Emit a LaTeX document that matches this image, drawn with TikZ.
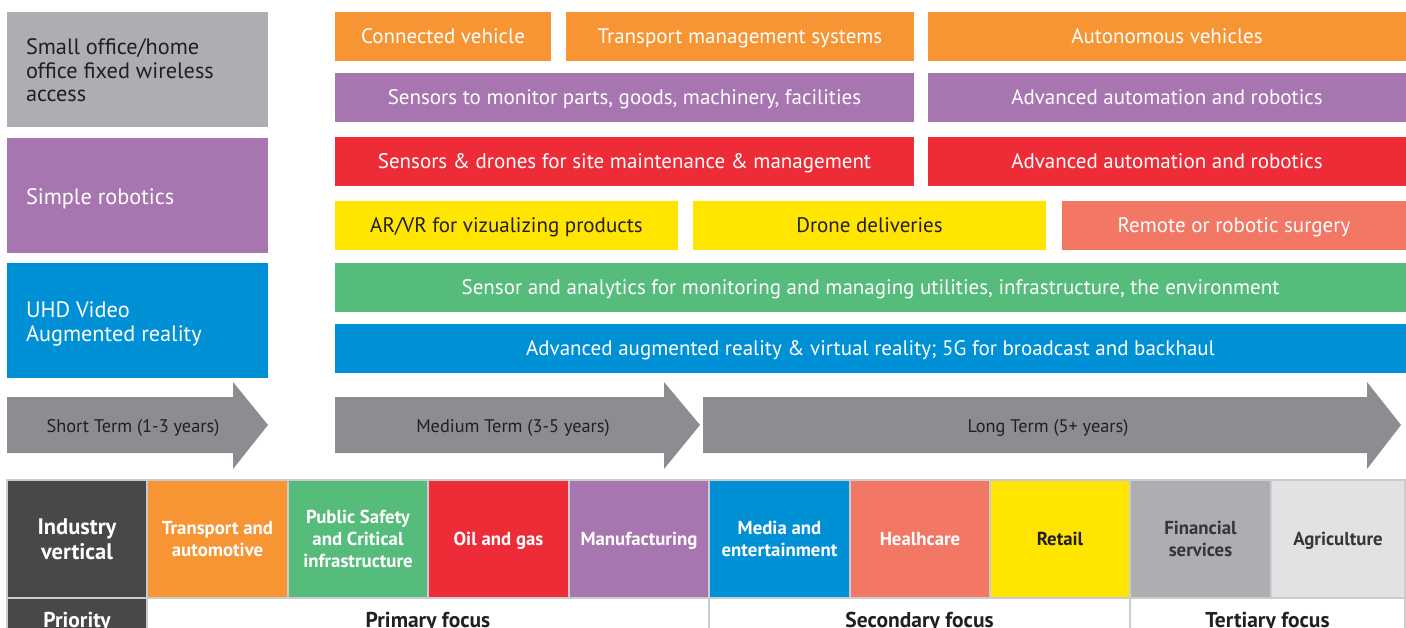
\documentclass[tikz,border=0pt]{standalone}
\usepackage{fontspec}
\setmainfont{PT Sans}
\definecolor{cgray}{HTML}{ADAEB1}
\definecolor{cpurple}{HTML}{A776B0}
\definecolor{cblue}{HTML}{0090D5}
\definecolor{corange}{HTML}{F79433}
\definecolor{cred}{HTML}{EE2C37}
\definecolor{cyellow}{HTML}{FFE500}
\definecolor{csalmon}{HTML}{F27764}
\definecolor{cgreen}{HTML}{56BC7B}
\definecolor{cdark}{HTML}{47484A}
\definecolor{carrow}{HTML}{8C8D90}
\definecolor{clight}{HTML}{E1E2E4}
\definecolor{cline}{HTML}{CBCCCE}
\definecolor{ctext}{HTML}{231F20}
\begin{document}
\begin{tikzpicture}[x=1pt,y=-1pt,
  box/.style={anchor=north west,inner sep=0pt,outer sep=0pt,text=white,
    font=\fontsize{21}{24}\selectfont,text height=14.7pt,text depth=0pt},
  sidebox/.style={anchor=north west,inner sep=0pt,outer sep=0pt,minimum width=261pt,
    minimum height=115pt},
  sidetext/.style={anchor=base west,inner sep=0pt,outer sep=0pt,text=white,
    font=\fontsize{22.3}{23.7}\selectfont},
  arrowtext/.style={text=ctext,font=\fontsize{18.3}{22}\selectfont,
    text height=12.8pt,text depth=0pt,inner sep=0pt},
  cell/.style={anchor=north west,inner sep=0pt,outer sep=0pt,draw=cline,line width=1.1pt,
    minimum height=118pt,text=white,align=center,
    font=\bfseries\fontsize{18.8}{22}\selectfont},
  one/.style={text height=13.2pt,text depth=0pt},
  prow/.style={anchor=north west,inner sep=0pt,outer sep=0pt,draw=cline,line width=1.1pt,
    minimum height=44pt,text=ctext,font=\bfseries\fontsize{21.5}{24}\selectfont,
    text height=15pt,text depth=0pt},
]
\useasboundingbox (0,0) rectangle (1406,628);
\clip (0,0) rectangle (1406,628);

% left column
\node[sidebox,fill=cgray] (soho) at (7,12) {};
\node[sidebox,fill=cpurple] (robot) at (7,138) {};
\node[sidebox,fill=cblue] (uhd) at (7,263) {};
\node[sidetext,text=ctext] (sohoT) at (26,54.5)
  {\parbox[t]{230pt}{\raggedright Small office/home\\office fixed wireless\\access}};
\node[sidetext] (robotT) at (26,204.5) {Simple robotics};
\node[sidetext] (uhdT) at (26,317.5)
  {\parbox[t]{230pt}{\raggedright UHD Video\\Augmented reality}};

% row 1
\node[box,fill=corange,minimum width=216pt,minimum height=49pt] (cv) at (335,12) {Connected vehicle};
\node[box,fill=corange,minimum width=348pt,minimum height=49pt] (tms) at (566,12) {Transport management systems};
\node[box,fill=corange,minimum width=478pt,minimum height=49pt] (av) at (928,12) {Autonomous vehicles};
% row 2
\node[box,fill=cpurple,minimum width=579pt,minimum height=49pt] (sens) at (335,73) {Sensors to monitor parts, goods, machinery, facilities};
\node[box,fill=cpurple,minimum width=478pt,minimum height=49pt] (aar1) at (928,73) {Advanced automation and robotics};
% row 3
\node[box,fill=cred,minimum width=579pt,minimum height=49pt] (drone) at (335,137) {Sensors \& drones for site maintenance \& management};
\node[box,fill=cred,minimum width=478pt,minimum height=49pt] (aar2) at (928,137) {Advanced automation and robotics};
% row 4
\node[box,fill=cyellow,text=ctext,minimum width=343pt,minimum height=49pt] (arvr) at (335,201) {AR/VR for vizualizing products};
\node[box,fill=cyellow,text=ctext,minimum width=353pt,minimum height=49pt] (dd) at (693,201) {Drone deliveries};
\node[box,fill=csalmon,minimum width=344pt,minimum height=49pt] (surg) at (1062,201) {Remote or robotic surgery};
% row 5
\node[box,fill=cgreen,minimum width=1071pt,minimum height=49pt] (util) at (335,263) {Sensor and analytics for monitoring and managing utilities, infrastructure, the environment};
% row 6
\node[box,fill=cblue,minimum width=1071pt,minimum height=49pt] (adv) at (335,324) {Advanced augmented reality \& virtual reality; 5G for broadcast and backhaul};

% arrows
\fill[carrow] (7,397) -- (233,397) -- (233,382) -- (268,425) -- (233,469) -- (233,453) -- (7,453) -- cycle;
\fill[carrow] (335,397) -- (664,397) -- (664,382) -- (700,425) -- (664,469) -- (664,453) -- (335,453) -- cycle;
\fill[carrow] (703,397) -- (1367,397) -- (1367,382) -- (1401,425) -- (1367,469) -- (1367,453) -- (703,453) -- cycle;
\node[arrowtext] (st) at (133,426) {Short Term (1-3 years)};
\node[arrowtext] (mt) at (513,426) {Medium Term (3-5 years)};
\node[arrowtext] (lt) at (1048,426) {Long Term (5+ years)};

% table row 1
\node[cell,fill=cdark,minimum width=140pt,font=\bfseries\fontsize{22.5}{25}\selectfont] (iv) at (7,480) {Industry\\vertical};
\node[cell,fill=corange,minimum width=141pt] (c1) at (147,480) {Transport and\\automotive};
\node[cell,fill=cgreen,minimum width=140pt] (c2) at (288,480) {Public Safety\\and Critical\\infrastructure};
\node[cell,one,fill=cred,minimum width=141pt] (c3) at (428,480) {Oil and gas};
\node[cell,one,fill=cpurple,minimum width=140pt] (c4) at (569,480) {Manufacturing};
\node[cell,fill=cblue,minimum width=141pt] (c5) at (709,480) {Media and\\entertainment};
\node[cell,one,fill=csalmon,minimum width=140pt] (c6) at (850,480) {Healhcare};
\node[cell,one,fill=cyellow,text=ctext,minimum width=140pt] (c7) at (990,480) {Retail};
\node[cell,fill=cgray,text=ctext!90,minimum width=141pt] (c8) at (1130,480) {Financial\\services};
\node[cell,one,fill=clight,text=ctext!90,minimum width=134pt] (c9) at (1271,480) {Agriculture};

% table row 2
\node[prow,fill=cdark,text=white,minimum width=140pt] (pr) at (7,598) {Priority};
\node[prow,fill=white,minimum width=562pt] (pf) at (147,598) {Primary focus};
\node[prow,fill=white,minimum width=421pt] (sf) at (709,598) {Secondary focus};
\node[prow,fill=white,minimum width=275pt] (tf) at (1130,598) {Tertiary focus};
\end{tikzpicture}
\end{document}
